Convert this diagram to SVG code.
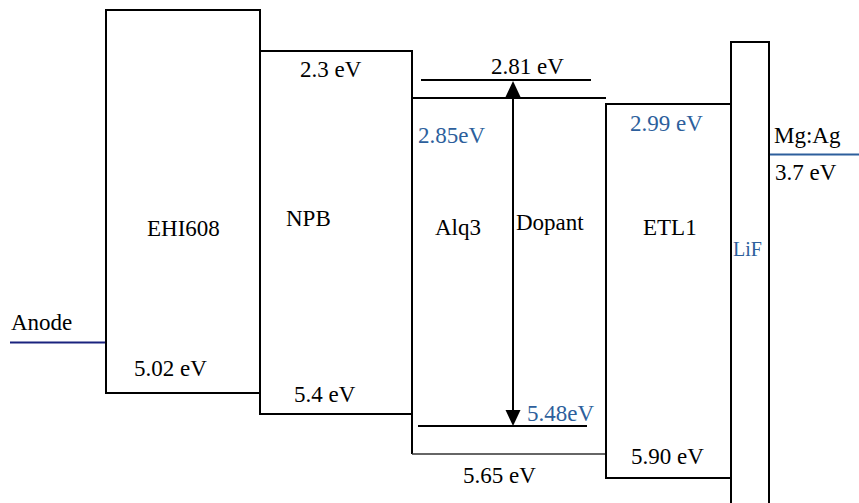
<svg xmlns="http://www.w3.org/2000/svg" width="859" height="503" viewBox="0 0 859 503">
<defs>
<path id="tri-up" d="M0,0 L7.5,16 L-7.5,16 Z"/>
<path id="tri-down" d="M0,0 L7.5,-16 L-7.5,-16 Z"/>
</defs>
<rect width="859" height="503" fill="#fff"/>
<g id="connectors" stroke-width="2" fill="none">
<line x1="10" y1="342.5" x2="106" y2="342.5" stroke="#1a237e"/>
<line x1="769" y1="154.5" x2="859" y2="154.5" stroke="#2d5f9c"/>
<line x1="421" y1="80" x2="591" y2="80" stroke="#000"/>
<line x1="418" y1="426" x2="587" y2="426" stroke="#000"/>
<line x1="513" y1="97" x2="513" y2="411" stroke="#000"/>
<use href="#tri-up" x="513" y="81" fill="#000" stroke="none"/>
<use href="#tri-down" x="513" y="426" fill="#000" stroke="none"/>
</g>
<g id="EHI608">
<rect x="106" y="10" width="154" height="383" fill="none" stroke="#000" stroke-width="2"/>
<text style="font-family:'Liberation Serif',serif !important;font-size:23px" x="147" y="236">EHI608</text>
<text style="font-family:'Liberation Serif',serif !important;font-size:23px" x="134" y="376">5.02 eV</text>
</g>
<g id="anode">
<text style="font-family:'Liberation Serif',serif !important;font-size:23px" x="11" y="330">Anode</text>
</g>
<g id="NPB">
<rect x="260" y="51" width="152" height="363" fill="none" stroke="#000" stroke-width="2"/>
<text style="font-family:'Liberation Serif',serif !important;font-size:23px" x="300" y="77">2.3 eV</text>
<text style="font-family:'Liberation Serif',serif !important;font-size:23px" x="286" y="226">NPB</text>
<text style="font-family:'Liberation Serif',serif !important;font-size:23px" x="294" y="402">5.4 eV</text>
</g>
<g id="Alq3">
<path d="M412,98 H606 M412,98 V454" fill="none" stroke="#000" stroke-width="2"/>
<path d="M412,454 H606" stroke="#333" stroke-width="1.5" fill="none"/>
<text style="font-family:'Liberation Serif',serif !important;font-size:23px" fill="#2d5f9c" x="418" y="143">2.85eV</text>
<text style="font-family:'Liberation Serif',serif !important;font-size:23px" x="435" y="235">Alq3</text>
<text style="font-family:'Liberation Serif',serif !important;font-size:23px" x="463" y="483">5.65 eV</text>
</g>
<g id="Dopant">
<text style="font-family:'Liberation Serif',serif !important;font-size:23px" x="491" y="74">2.81 eV</text>
<text style="font-family:'Liberation Serif',serif !important;font-size:23px" x="516" y="230">Dopant</text>
<text style="font-family:'Liberation Serif',serif !important;font-size:23px" fill="#2d5f9c" x="527" y="421">5.48eV</text>
</g>
<g id="ETL1">
<rect x="606" y="104" width="125" height="374" fill="none" stroke="#000" stroke-width="2"/>
<text style="font-family:'Liberation Serif',serif !important;font-size:23px" fill="#2d5f9c" x="630" y="131">2.99 eV</text>
<text style="font-family:'Liberation Serif',serif !important;font-size:23px" x="643" y="235">ETL1</text>
<text style="font-family:'Liberation Serif',serif !important;font-size:23px" x="631" y="464">5.90 eV</text>
</g>
<g id="LiF">
<rect x="731" y="42" width="38" height="470" fill="none" stroke="#000" stroke-width="2"/>
<text style="font-family:'Liberation Serif',serif !important;font-size:20px" fill="#2d5f9c" x="733" y="256">LiF</text>
</g>
<g id="MgAg">
<text style="font-family:'Liberation Serif',serif !important;font-size:23px" x="774" y="143">Mg:Ag</text>
<text style="font-family:'Liberation Serif',serif !important;font-size:23px" x="775" y="180">3.7 eV</text>
</g>
</svg>
